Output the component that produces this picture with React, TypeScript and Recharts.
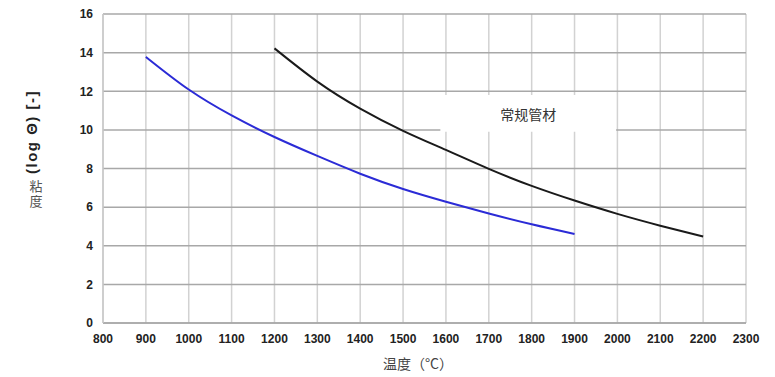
import React from 'react'
import {
  LineChart,
  Line,
  XAxis,
  YAxis,
  CartesianGrid,
  ReferenceArea
} from 'recharts'

// temperature (°C) / log viscosity values
const newTemps = [900, 1000, 1100, 1200, 1300, 1400, 1500, 1600, 1700, 1800, 1900]
const newVisc = [13.78, 12.09, 10.75, 9.63, 8.65, 7.73, 6.94, 6.28, 5.67, 5.11, 4.61]

const stdTemps = [1200, 1300, 1400, 1500, 1600, 1700, 1800, 1900, 2000, 2100, 2200]
const stdVisc = [14.22, 12.5, 11.1, 9.95, 8.96, 7.98, 7.1, 6.34, 5.65, 5.04, 4.48]

const xTicks = [800, 900, 1000, 1100, 1200, 1300, 1400, 1500, 1600, 1700, 1800, 1900, 2000, 2100, 2200, 2300]
const yTicks = [0, 2, 4, 6, 8, 10, 12, 14, 16]

const newData = newTemps.map((t, i) => ({ t, v: newVisc[i] }))
const stdData = stdTemps.map((t, i) => ({ t, v: stdVisc[i] }))

const sans = '"Liberation Sans", Arial, sans-serif'
const cjk = '"Noto Sans CJK SC", sans-serif'

const tickStyle = {
  fill: '#222',
  fontSize: 12,
  fontWeight: 700,
  fontFamily: sans
}

// axis titles, drawn at fixed spots like the original
const AxisTitles = () => (
  <g>
    <text
      x={31}
      y={132}
      transform="rotate(-90 31 132)"
      textAnchor="middle"
      dominantBaseline="central"
      fontSize={15}
      fontWeight={700}
      letterSpacing={1.5}
      fill="#222"
      fontFamily={sans}
    >
      (log Θ) [-]
    </text>
    <text
      x={36}
      y={180}
      style={{ writingMode: 'vertical-rl' }}
      fontSize={13}
      letterSpacing={2}
      fill="#555"
      fontFamily={cjk}
    >
      粘度
    </text>
    <text x={418} y={369} textAnchor="middle" fontSize={14} fill="#444" fontFamily={cjk}>
      温度（°C）
    </text>
  </g>
)

export default function App() {
  return (
    <div style={{ position: 'absolute', left: 0, top: 0, background: '#fff' }}>
      <LineChart width={775} height={377} margin={{ top: 14, right: 29, bottom: 24, left: 0 }}>
        <CartesianGrid horizontal={false} vertical stroke="#d2d2d2" strokeWidth={1.5} />
        <CartesianGrid horizontal vertical={false} stroke="#a8a8a8" strokeWidth={1.5} />
        <XAxis
          type="number"
          dataKey="t"
          domain={[800, 2300]}
          ticks={xTicks}
          interval={0}
          height={30}
          axisLine={{ stroke: '#a8a8a8', strokeWidth: 1.5 }}
          tickLine={false}
          tickMargin={5}
          tick={tickStyle}
        />
        <YAxis
          type="number"
          domain={[0, 16]}
          ticks={yTicks}
          interval={0}
          width={103}
          axisLine={{ stroke: '#c8c8c8', strokeWidth: 1.5 }}
          tickLine={false}
          tickMargin={4}
          tick={tickStyle}
          label={<AxisTitles />}
        />
        <ReferenceArea
          x1={1587}
          x2={1997}
          y1={9.9}
          y2={11.8}
          fill="#fff"
          fillOpacity={1}
          stroke="none"
          label={{
            value: '常规管材',
            position: 'center',
            fill: '#333',
            fontSize: 14,
            dy: 2,
            fontFamily: cjk
          }}
        />
        <Line
          data={newData}
          dataKey="v"
          type="natural"
          stroke="#2b2bd6"
          strokeWidth={2}
          dot={false}
          isAnimationActive={false}
        />
        <Line
          data={stdData}
          dataKey="v"
          type="natural"
          stroke="#1a1a1a"
          strokeWidth={2}
          dot={false}
          isAnimationActive={false}
        />
      </LineChart>
    </div>
  )
}
